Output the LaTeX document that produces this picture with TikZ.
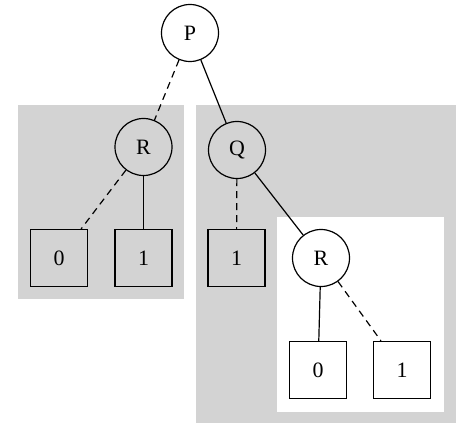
\documentclass[tikz,border=0pt]{standalone}
\usepackage{fontspec}
\setmainfont{Liberation Serif}
\definecolor{lgray}{RGB}{211,211,211}
\begin{document}
\begin{tikzpicture}[x=1bp,y=-1bp,
  every node/.style={font=\fontsize{22}{22}\selectfont, line width=1.2bp, draw, inner sep=0pt},
  cnode/.style={circle, minimum size=57bp},
  snode/.style={rectangle, minimum width=57bp, minimum height=57bp},
  edge/.style={line width=1.2bp},
  dedge/.style={line width=1.2bp, dash pattern=on 7bp off 5bp}]
\useasboundingbox (0,0) rectangle (474,442);
\fill[lgray] (18,105) rectangle (184,299);
\fill[lgray] (196,105) rectangle (456,423);
\fill[white] (277,217) rectangle (444,412);
\node[cnode] (P) at (190,33) {P};
\node[cnode] (R1) at (143.5,147) {R};
\node[cnode] (Q) at (237,150) {Q};
\node[snode] (A0) at (59,258) {0};
\node[snode] (A1) at (143.5,258) {1};
\node[snode] (B1) at (236.5,258) {1};
\node[cnode] (R2) at (321,258) {R};
\node[snode] (C0) at (318,370) {0};
\node[snode] (C1) at (402,370) {1};
\draw[dedge] (P) -- (R1);
\draw[edge] (P) -- (Q);
\draw[dedge] (R1) -- (A0);
\draw[edge] (R1) -- (A1);
\draw[dedge] (Q) -- (B1);
\draw[edge] (Q) -- (R2);
\draw[edge] (R2) -- (C0);
\draw[dedge] (R2) -- (C1);
\end{tikzpicture}
\end{document}
